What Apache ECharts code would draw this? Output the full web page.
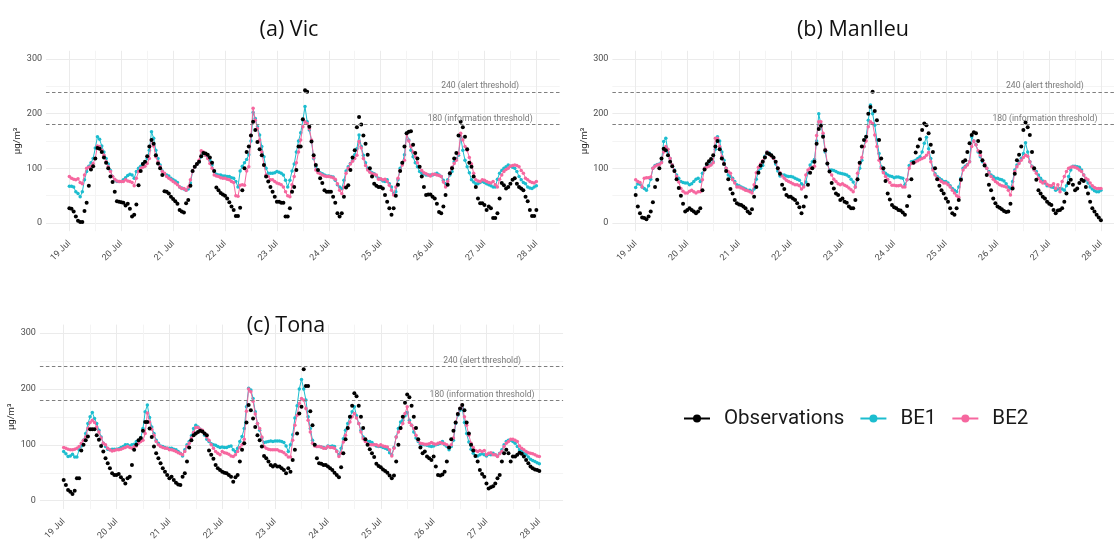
<!DOCTYPE html>
<html>
<head>
<meta charset="utf-8">
<script src="https://cdn.jsdelivr.net/npm/echarts@6/dist/echarts.min.js"></script>
<style>
  html, body { margin: 0; padding: 0; background: #fff; }
  #main { width: 1114px; height: 544px; }
</style>
</head>
<body>
<div id="main"></div>
<script>
// hourly ozone values, 19 Jul 00:00 -> 28 Jul 00:00 (one row = one day, last value = 28 Jul 00:00)
var vicObs = [
  27,26,21,12,4,2,2,22,37,68,98,104,118,137,136,130,120,110,100,85,75,57,40,39,
  38,37,32,35,26,12,15,34,69,95,108,112,122,140,152,145,124,109,100,88,58,57,54,48,
  44,40,35,24,21,19,36,42,68,95,103,108,112,122,128,127,125,120,110,95,65,60,55,52,
  50,45,38,30,24,13,13,28,60,100,130,140,160,185,170,148,135,124,106,85,76,66,57,48,
  39,39,37,37,12,12,27,57,66,97,140,140,190,243,240,176,149,124,106,97,82,73,60,57,
  57,57,48,37,18,12,18,48,65,69,97,120,133,175,194,180,160,145,125,100,85,72,68,66,
  66,63,51,39,27,15,27,50,70,95,110,140,164,167,168,143,128,118,103,85,66,51,52,52,
  48,45,35,20,18,30,51,70,91,100,118,128,160,185,175,158,135,110,103,85,66,45,36,36,
  33,24,30,27,9,9,18,45,73,69,63,66,72,79,82,72,66,63,60,48,40,24,13,13,
  24
];
var vicBE1 = [
  67,67,66,57,54,48,57,79,94,104,110,118,137,158,153,141,130,118,108,96,85,79,76,76,
  76,79,83,87,89,88,82,94,100,104,109,112,118,133,167,155,133,118,106,95,90,88,86,82,
  79,77,74,66,64,62,60,62,73,94,103,108,112,121,127,124,122,115,106,94,89,88,88,86,
  86,85,85,83,82,76,66,95,104,110,116,125,150,202,191,176,161,140,121,100,91,91,91,92,
  94,93,91,88,78,66,78,95,108,130,150,165,188,213,185,170,150,118,103,96,92,90,88,86,
  86,85,84,78,70,66,63,78,95,103,109,115,125,136,161,140,124,110,100,95,92,90,86,82,
  80,77,76,79,72,66,54,57,79,100,109,125,164,152,133,121,110,103,94,91,90,88,88,88,
  88,89,91,88,85,78,72,79,88,94,112,118,124,158,133,115,103,92,79,75,72,72,74,76,
  74,72,70,68,66,66,80,91,96,100,103,106,104,102,100,94,85,79,74,72,66,64,63,66,
  68
];
var vicBE2 = [
  85,82,80,79,81,74,72,88,100,102,104,109,118,141,140,133,124,112,103,94,85,80,77,76,
  76,76,79,77,76,74,68,82,94,100,102,104,109,118,152,141,121,112,103,94,91,85,82,79,
  76,73,70,66,63,63,60,66,79,94,103,108,115,132,130,124,118,109,100,88,86,85,83,82,
  82,80,79,76,74,50,49,69,70,69,95,103,160,210,188,173,152,130,106,88,85,79,79,76,
  73,72,70,66,57,50,48,70,85,110,130,152,176,185,182,173,152,120,97,92,90,88,86,85,
  85,84,83,80,72,60,54,66,91,100,108,113,118,124,149,137,118,105,97,93,90,89,88,80,
  81,79,80,76,69,60,51,66,82,96,106,115,163,150,140,130,121,110,103,96,92,90,88,86,
  89,89,88,87,85,75,66,76,91,102,109,115,127,164,152,140,133,120,108,91,79,77,76,79,
  78,76,74,73,76,70,66,80,88,94,98,100,104,105,106,105,103,96,91,82,79,76,74,73,
  76
];

var manObs = [
  51,30,18,10,9,7,12,21,38,66,79,100,118,136,133,124,112,104,95,80,64,50,35,21,
  24,27,24,21,18,21,27,60,98,108,113,117,124,140,150,135,118,108,95,80,62,54,42,36,
  34,33,30,27,21,18,25,48,66,92,105,112,120,128,126,124,120,112,100,90,70,62,51,48,
  48,45,42,36,29,18,30,48,70,92,100,112,145,172,178,158,133,109,94,73,63,54,51,42,
  45,39,37,30,27,27,42,80,110,140,152,158,200,212,240,205,188,152,118,100,77,54,43,33,
  29,27,24,23,19,15,31,49,80,110,129,140,153,170,182,179,164,143,130,100,80,68,60,54,
  45,39,27,18,15,27,42,79,112,115,130,146,161,166,164,150,130,115,105,88,70,60,45,36,
  30,28,25,22,20,21,35,63,90,115,125,140,170,184,175,161,130,100,79,60,54,48,45,39,
  35,33,24,18,23,24,27,39,54,73,79,70,60,63,73,79,77,66,54,39,27,21,15,10,
  5
];
var manBE1 = [
  65,72,71,66,63,60,68,80,100,105,107,108,112,149,155,130,118,106,97,88,82,76,74,73,
  73,70,72,76,80,82,76,91,100,104,106,108,112,135,158,150,130,115,100,88,85,82,76,70,
  68,66,64,62,60,60,58,62,80,95,100,105,122,130,128,124,118,108,95,86,88,88,86,85,
  85,84,82,80,78,72,68,75,92,106,112,116,150,200,180,160,130,108,97,97,96,94,92,91,
  90,89,88,85,80,75,66,79,100,115,140,158,188,216,200,179,152,127,103,94,91,88,86,85,
  83,84,84,83,82,70,79,105,112,113,115,118,121,130,146,157,136,118,100,90,85,82,79,76,
  76,73,68,63,60,57,66,82,100,104,107,112,158,150,143,130,121,112,106,100,94,88,85,82,
  82,80,79,77,72,66,63,76,97,106,112,118,127,147,130,112,104,98,94,88,82,77,73,68,
  68,66,65,60,62,63,62,60,68,85,97,104,104,103,102,97,88,79,73,66,62,59,57,57,
  60
];
var manBE2 = [
  79,76,74,66,82,83,83,84,100,104,106,107,110,130,140,135,118,106,95,85,75,63,58,55,
  55,58,60,57,55,57,57,79,100,102,104,106,110,155,155,140,121,109,100,94,91,79,73,66,
  66,64,62,60,59,57,55,70,92,102,108,114,120,130,126,122,118,112,100,92,86,82,78,76,
  74,72,70,70,68,62,66,88,97,100,102,104,160,185,185,164,135,109,94,88,80,76,72,70,
  72,69,67,64,61,57,66,91,109,120,140,150,176,185,182,161,140,115,100,92,85,80,74,69,
  69,68,68,69,66,66,79,100,109,110,112,114,116,118,120,124,129,112,97,88,82,79,76,73,
  73,70,66,60,55,50,47,79,97,102,106,112,140,150,143,132,124,115,108,100,92,85,80,76,
  73,70,68,67,66,60,51,66,94,103,109,115,120,124,122,112,103,97,91,82,76,73,76,71,
  68,68,72,63,70,57,76,85,94,100,102,103,102,100,97,94,88,82,79,73,68,65,63,63,
  63
];

var tonaObs = [
  37,28,19,16,12,18,40,40,90,100,108,115,128,128,128,117,109,98,88,76,67,58,49,46,
  46,48,42,37,31,40,43,64,91,100,108,112,125,141,141,129,114,97,85,76,67,58,52,46,
  40,43,37,32,29,28,43,49,70,95,108,117,120,123,125,124,120,117,90,82,75,64,58,55,
  52,50,49,46,43,34,42,46,70,91,103,140,171,162,147,132,117,108,97,80,76,70,64,61,
  64,61,61,58,55,49,58,52,73,91,120,156,168,235,205,205,160,135,100,76,67,66,64,64,
  61,58,55,50,46,42,60,85,110,130,150,170,192,187,170,150,130,110,100,92,85,78,66,62,
  60,56,53,50,45,40,45,70,100,130,150,175,190,185,170,150,130,110,95,85,88,79,76,73,
  79,61,46,45,47,52,70,95,110,125,140,155,165,171,162,140,120,100,90,80,70,55,48,43,
  31,22,24,26,31,40,46,70,85,91,85,70,79,79,82,86,84,79,73,67,61,58,56,55,
  53
];
var tonaBE1 = [
  88,84,79,80,83,78,78,91,98,108,120,138,150,158,147,138,126,114,103,97,92,91,92,92,
  92,93,95,97,100,100,98,100,101,106,108,112,129,159,171,149,132,120,108,103,98,97,95,94,
  94,94,92,91,88,85,80,91,100,106,116,129,135,132,128,124,117,110,106,102,100,99,97,95,
  96,95,95,97,98,91,88,94,106,115,129,168,201,198,183,159,138,126,112,104,105,106,107,106,
  107,107,107,106,104,98,88,100,118,148,170,200,217,200,180,150,129,108,100,97,97,96,95,94,
  98,97,98,97,89,82,94,111,126,138,150,159,168,152,138,126,114,108,106,106,104,100,98,97,
  97,95,94,92,86,82,95,114,129,141,144,152,158,144,135,123,112,106,101,100,100,99,98,97,
  98,100,101,103,106,100,97,91,97,108,138,153,162,166,140,120,105,92,85,80,80,82,84,82,
  80,83,82,85,82,80,85,91,100,106,108,108,106,103,97,91,88,85,82,78,74,72,70,68,
  66
];
var tonaBE2 = [
  95,94,92,91,91,92,94,97,103,108,114,129,140,144,140,132,123,112,103,100,94,91,89,90,
  91,91,92,94,95,97,95,94,97,98,103,106,108,120,157,141,128,117,106,100,97,95,94,94,
  91,91,90,88,86,84,82,88,97,103,112,122,131,131,128,126,120,114,108,100,94,88,85,82,
  88,86,85,83,80,79,82,88,95,100,110,160,200,195,178,155,138,129,114,97,94,92,91,91,
  91,91,89,88,86,82,78,78,108,135,153,174,183,180,165,144,123,103,98,97,97,96,94,94,
  97,95,95,94,88,79,85,105,117,129,141,150,156,148,138,123,111,106,102,100,100,100,100,98,
  100,98,97,96,91,80,94,114,123,129,138,156,168,140,135,129,117,108,103,102,101,101,102,104,
  102,101,103,104,103,102,100,95,100,112,140,155,165,171,150,135,117,103,95,90,88,90,88,90,
  82,85,86,82,82,79,84,88,97,103,106,110,110,108,106,98,94,91,88,86,85,84,82,80,
  79
];

var dayLabels = ['19 Jul', '20 Jul', '21 Jul', '22 Jul', '23 Jul', '24 Jul', '25 Jul', '26 Jul', '27 Jul', '28 Jul'];
var dayTicks = [0, 24, 48, 72, 96, 120, 144, 168, 192, 216];      // hours since 19 Jul 00:00
var halfDayTicks = [12, 36, 60, 84, 108, 132, 156, 180, 204];
var yTicks = [0, 100, 200, 300];
var yMinorTicks = [50, 150, 250];
var thresholds = [240, 180];
var thresholdText = ['240 (alert threshold)', '180 (information threshold)'];
var thresholdLabelHour = 190;

var cBE1 = '#1CBDCF';
var cBE2 = '#F6679F';
var font = 'Roboto';

var panels = [
  { title: '(a) Vic', obs: vicObs, be1: vicBE1, be2: vicBE2,
    grid: { left: 46, top: 50.8, width: 513.7, height: 180.4 }, tx: 284, ty: 14, xMax: 226.8 },
  { title: '(b) Manlleu', obs: manObs, be1: manBE1, be2: manBE2,
    grid: { left: 612.4, top: 50.8, width: 501.6, height: 180.4 }, tx: 848, ty: 14, xMax: 222.07 },
  { title: '(c) Tona', obs: tonaObs, be1: tonaBE1, be2: tonaBE2,
    grid: { left: 39.9, top: 324.6, width: 523.2, height: 184.5 }, tx: 281, ty: 310, xMax: 226.8 }
];

function pts(arr) {
  return arr.map(function (v, i) { return [i, v]; });
}

var titles = [], grids = [], xAxes = [], yAxes = [], series = [];

panels.forEach(function (p, i) {
  titles.push({
    text: p.title, left: p.tx, top: p.ty, textAlign: 'center',
    textStyle: { fontFamily: 'Open Sans', fontWeight: 'normal', fontSize: 21.5, color: '#111' }
  });
  grids.push(Object.assign({ outerBoundsMode: 'none', containLabel: false }, p.grid));

  // main x axis (day labels + major grid)
  xAxes.push({
    gridIndex: i, type: 'value', min: -10.8, max: p.xMax,
    axisLine: { show: false },
    axisTick: { show: false, customValues: dayTicks },
    axisLabel: {
      customValues: dayTicks, rotate: 45, margin: 11, fontSize: 9, fontFamily: font, color: '#4d4d4d',
      formatter: function (v) { return dayLabels[Math.round(v / 24)]; }
    },
    splitLine: { show: true, lineStyle: { color: '#ebebeb', width: 1 } }
  });
  // minor x grid (noon)
  xAxes.push({
    gridIndex: i, type: 'value', min: -10.8, max: p.xMax, position: 'top',
    axisLine: { show: false }, axisLabel: { show: false },
    axisTick: { show: false, customValues: halfDayTicks },
    splitLine: { show: true, lineStyle: { color: '#f4f4f4', width: 1 } }
  });
  yAxes.push({
    gridIndex: i, type: 'value', min: -15, max: 315,
    name: 'µg/m³', nameLocation: 'middle', nameRotate: 90, nameGap: 23,
    nameTextStyle: { fontSize: 9.5, fontFamily: font, color: '#222' },
    axisLine: { show: false },
    axisTick: { show: false, customValues: yTicks },
    axisLabel: { customValues: yTicks, margin: 4, fontSize: 9, fontFamily: font, color: '#4d4d4d' },
    splitLine: { show: true, lineStyle: { color: '#ebebeb', width: 1 } }
  });
  yAxes.push({
    gridIndex: i, type: 'value', min: -15, max: 315, position: 'right',
    axisLine: { show: false }, axisLabel: { show: false },
    axisTick: { show: false, customValues: yMinorTicks },
    splitLine: { show: true, lineStyle: { color: '#f4f4f4', width: 1 } }
  });

  var xi = i * 2, yi = i * 2;
  series.push({
    name: 'BE1', type: 'line', xAxisIndex: xi, yAxisIndex: yi, data: pts(p.be1),
    symbol: 'circle', symbolSize: 3.5, showAllSymbol: true, z: 2,
    itemStyle: { color: cBE1 }, lineStyle: { color: cBE1, width: 1 }
  });
  series.push({
    name: 'BE2', type: 'line', xAxisIndex: xi, yAxisIndex: yi, data: pts(p.be2),
    symbol: 'circle', symbolSize: 3.5, showAllSymbol: true, z: 3,
    itemStyle: { color: cBE2 }, lineStyle: { color: cBE2, width: 1 }
  });
  series.push({
    name: 'Observations', type: 'line', xAxisIndex: xi, yAxisIndex: yi, data: pts(p.obs),
    symbol: 'circle', symbolSize: 4, showAllSymbol: true, z: 4,
    itemStyle: { color: '#000' }, lineStyle: { color: '#000', width: 0 },
    markLine: {
      silent: true, symbol: ['none', 'none'], label: { show: false },
      lineStyle: { color: '#7f7f7f', type: [3.5, 2.5], width: 1 },
      data: thresholds.map(function (t) { return { yAxis: t }; })
    },
    markPoint: {
      silent: true, symbol: 'circle', symbolSize: 0,
      itemStyle: { color: 'rgba(0,0,0,0)' },
      label: {
        show: true, position: 'top', distance: 1, formatter: '{b}',
        fontSize: 8.6, fontFamily: font, color: '#7a7a7a'
      },
      data: thresholds.map(function (t, k) {
        return { name: thresholdText[k], coord: [thresholdLabelHour, t] };
      })
    }
  });
});

var chart = echarts.init(document.getElementById('main'));
chart.setOption({
  animation: false,
  backgroundColor: '#fff',
  title: titles,
  grid: grids,
  xAxis: xAxes,
  yAxis: yAxes,
  legend: {
    data: ['Observations', 'BE1', 'BE2'],
    left: 683, top: 408, padding: 0,
    itemWidth: 26, itemHeight: 10, itemGap: 15,
    lineStyle: { width: 2, opacity: 1 },
    textStyle: { fontSize: 20.5, fontFamily: font, color: '#1a1a1a', padding: [0, 0, 0, 9] }
  },
  series: series
});
</script>
</body>
</html>
